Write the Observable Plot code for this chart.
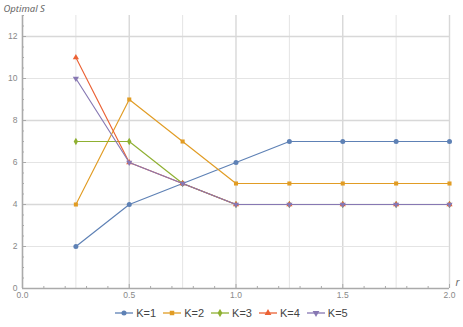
<!DOCTYPE html>
<html><head><meta charset="utf-8">
<script src="https://cdn.jsdelivr.net/npm/d3@7"></script>
<script src="https://cdn.jsdelivr.net/npm/@observablehq/plot@0.6"></script>
<style>
body{margin:0;background:#fff;font-family:"Liberation Sans",Arial,sans-serif;}
#chart svg{display:block;}
#legend{display:flex;justify-content:center;gap:7px;height:27px;align-items:center;font-size:11px;color:#444;padding-bottom:2px;box-sizing:border-box;}
.item{display:flex;align-items:center;gap:3px;}
</style></head><body><div id="chart"></div><div id="legend"></div>
<script>
const rValues = [0.25, 0.5, 0.75, 1.0, 1.25, 1.5, 1.75, 2.0];
const seriesNames = ["K=1", "K=2", "K=3", "K=4", "K=5"];
const sK1 = [2, 4, 5, 6, 7, 7, 7, 7];
const sK2 = [4, 9, 7, 5, 5, 5, 5, 5];
const sK3 = [7, 7, 5, 4, 4, 4, 4, 4];
const sK4 = [11, 6, 5, 4, 4, 4, 4, 4];
const sK5 = [10, 6, 5, 4, 4, 4, 4, 4];
const seriesValues = [sK1, sK2, sK3, sK4, sK5];
const colors = ["#5e81b5", "#e19c24", "#8fb032", "#eb6235", "#8778b3"];
const symbols = ["circle", "square", "diamond", "triangle", "triangle"];
const rotations = [0, 0, 0, 0, 180];
const xTicks = [0, 0.5, 1, 1.5, 2];
const yTicks = [0, 2, 4, 6, 8, 10, 12];
const xMinorTicks = d3.range(0, 21).map(i => i / 10).filter(v => !xTicks.some(t => Math.abs(t - v) < 1e-9));
const yMinorTicks = d3.range(0, 27).map(i => i / 2).filter(v => !yTicks.includes(v));
const gridXMajor = [0.5, 1, 1.5, 2];
const gridXMinor = [0.25, 0.75, 1.25, 1.75];
const gridYMajor = [4, 8, 12];
const gridYMinor = [2, 6, 10];
const xLabel = "r";
const yLabel = "Optimal S";

const data = seriesNames.flatMap((k, i) => rValues.map((r, j) => ({k, r, s: seriesValues[i][j], rot: rotations[i]})));

const tickFont = {fontSize: 8.5, fill: "#888", fontFamily: "'Liberation Sans Narrow','Liberation Sans',Arial,sans-serif"};
const axisColor = "#aaa";

const seriesMarks = seriesNames.flatMap((k, i) => {
  const d = data.filter(e => e.k === k);
  return [
    Plot.line(d, {x: "r", y: "s", stroke: "k", strokeWidth: 1.15}),
    Plot.dot(d, {x: "r", y: "s", fill: "k", symbol: "k", rotate: "rot", r: i === 0 ? 2.5 : 2.3, stroke: "none"})
  ];
});

const chart = Plot.plot({
  width: 463, height: 300,
  marginLeft: 22, marginRight: 14, marginTop: 15, marginBottom: 12,
  x: {domain: [0, 2], label: null},
  y: {domain: [0, 13], label: null},
  color: {domain: seriesNames, range: colors},
  symbol: {domain: seriesNames, range: symbols},
  style: {background: "#fff", overflow: "visible"},
  marks: [
    Plot.ruleX(gridXMinor, {stroke: "#e4e4e4", strokeWidth: 1}),
    Plot.ruleX(gridXMajor, {stroke: "#d8d8d8", strokeWidth: 1.4}),
    Plot.ruleY(gridYMinor, {stroke: "#e4e4e4", strokeWidth: 1}),
    Plot.ruleY(gridYMajor, {stroke: "#d8d8d8", strokeWidth: 1.6}),
    Plot.ruleX([0], {stroke: axisColor, strokeWidth: 1.6}),
    Plot.ruleY([0], {stroke: axisColor, strokeWidth: 1.6}),
    Plot.axisX({ticks: xMinorTicks, tickSize: -2, text: null, stroke: axisColor, label: null}),
    Plot.axisX({ticks: xTicks, tickSize: -4, tickPadding: 7, tickFormat: d3.format(".1f"), stroke: axisColor, label: null, ...tickFont}),
    Plot.axisY({ticks: yMinorTicks, tickSize: -2, text: null, stroke: axisColor, label: null}),
    Plot.axisY({ticks: yTicks, tickSize: -4, tickPadding: 9, tickFormat: d3.format("d"), stroke: axisColor, label: null, ...tickFont}),
    ...seriesMarks,
    Plot.text([yLabel], {frameAnchor: "top-left", dx: -19, dy: -4, lineAnchor: "bottom", textAnchor: "start", fontStyle: "italic", fontSize: 9.5, fill: "#666"}),
    Plot.text([xLabel], {frameAnchor: "bottom-right", dx: 8, dy: -3, lineAnchor: "bottom", textAnchor: "middle", fontStyle: "italic", fontSize: 10, fill: "#666"})
  ]
});
document.getElementById("chart").appendChild(chart);

const legend = document.getElementById("legend");
const symPaths = [d3.symbolCircle, d3.symbolSquare, d3.symbolDiamond, d3.symbolTriangle, d3.symbolTriangle];
seriesNames.forEach((k, i) => {
  const item = document.createElement("div");
  item.className = "item";
  const sym = d3.symbol(symPaths[i], 20)();
  item.innerHTML = `<svg width="18" height="8" viewBox="0 0 18 8"><line x1="0" x2="18" y1="4" y2="4" stroke="${colors[i]}" stroke-width="1.3"/><path d="${sym}" transform="translate(9,4) rotate(${rotations[i]})" fill="${colors[i]}"/></svg><span>${k}</span>`;
  legend.appendChild(item);
});
</script></body></html>
